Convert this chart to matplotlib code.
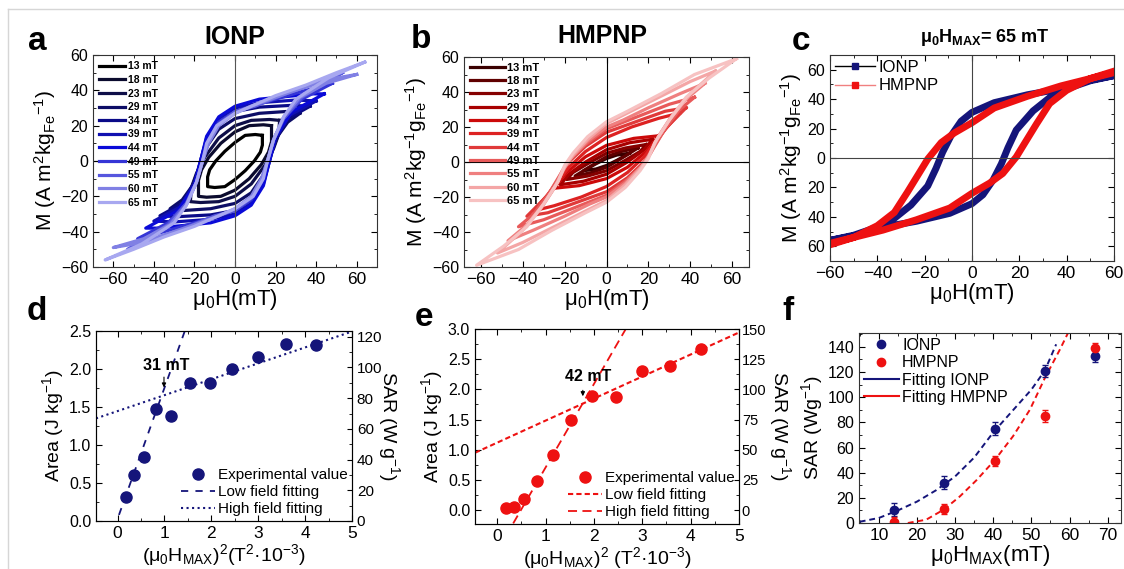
import matplotlib
matplotlib.use('Agg')
import matplotlib.pyplot as plt
from matplotlib.lines import Line2D
from matplotlib.ticker import MultipleLocator, FuncFormatter

plt.rcParams['font.family'] = ['Liberation Sans', 'DejaVu Sans']
plt.rcParams['mathtext.default'] = 'regular'

# ---- data: hysteresis loops, upper branch (H mT, M) from +tip to -tip ----
a_labels = ['13 mT', '18 mT', '23 mT', '29 mT', '34 mT', '39 mT', '44 mT', '49 mT', '55 mT', '60 mT', '65 mT']
a_colors = ['#000000', '#0b0b2e', '#0e0e48', '#0d0d66', '#0a0a88', '#1010b0', '#0a0ad8', '#3535d6', '#5656de', '#8080e4', '#a8a8f0']
a_loops = [
    [(13.5, 14.5), (10, 15), (5, 14.5), (0, 10.5), (-5, 5.5), (-9.5, 0), (-12.5, -5), (-13.5, -9), (-13.5, -14.5)],
    [(18, 20), (14, 20.5), (7, 20), (0, 16.5), (-7, 10), (-13, 2), (-16.5, -5), (-18, -11), (-18, -20)],
    [(22, 23), (17, 23.5), (8, 23), (0, 20), (-8, 13), (-15, 2), (-19, -7), (-21.5, -15), (-22, -23)],
    [(32, 27), (25, 28), (12, 27), (0, 24), (-8, 18), (-14, 8), (-17, -2), (-21, -14), (-26, -22), (-32, -27)],
    [(37, 31), (28, 31.5), (12, 30.5), (0, 28), (-8, 22), (-14, 12), (-17, 0), (-20, -12), (-26, -24), (-37, -31)],
    [(40, 34), (30, 34.5), (12, 33), (0, 30), (-8, 24), (-14, 13), (-17, 0), (-20, -13), (-27, -26), (-40, -34)],
    [(44, 38), (36, 38), (30, 37), (12, 35), (0, 31), (-8, 25), (-14, 14), (-17, 0), (-20, -14), (-28, -28), (-44, -38)],
    [(48, 44), (35, 40), (20, 35), (8, 31), (0, 28), (-8, 22), (-13, 12), (-16, 0), (-19, -12), (-24, -24), (-33, -35), (-48, -44)],
    [(53, 50), (40, 44), (25, 38), (10, 31), (0, 28), (-8, 21), (-13, 11), (-16, 0), (-19, -12), (-24, -24), (-33, -36), (-53, -50)],
    [(60, 49), (50, 47), (35, 42), (20, 36), (8, 31), (0, 27), (-8, 20), (-13, 10), (-16, 0), (-19, -12), (-24, -25), (-32, -36), (-45, -44), (-60, -49)],
    [(64, 56), (50, 50), (35, 43), (20, 37), (8, 31), (0, 27), (-9, 20), (-14, 10), (-16, 0), (-19, -12), (-24, -25), (-30, -35), (-46, -47), (-64, -56)],
]

b_labels = a_labels
b_colors = ['#3a0000', '#600000', '#850000', '#a80000', '#cc0a0a', '#dd2222', '#e03a3a', '#e85a5a', '#ef7f7f', '#f4a6a6', '#f7c2c2']
b_loops = [
    [(11, 5), (5, 4), (0, 2), (-5, -1), (-11, -5)],
    [(15, 8), (7, 6), (0, 3), (-7, -2), (-15, -8)],
    [(19, 10), (9, 8), (0, 5), (-9, -1), (-16, -6), (-19, -10)],
    [(22, 13), (11, 11), (0, 7), (-10, 0), (-18, -7), (-22, -13)],
    [(25, 15), (13, 13.5), (0, 9.5), (-10, 3), (-19, -6), (-25, -15)],
    [(35, 28), (25, 25), (12, 20), (0, 14), (-10, 6), (-18, -3), (-23, -11), (-29, -20), (-35, -28)],
    [(38, 31), (28, 29), (14, 23), (0, 17), (-10, 9), (-18, 0), (-22, -8), (-28, -19), (-38, -31)],
    [(42, 37), (30, 33), (15, 26), (0, 19), (-10, 10), (-18, 1), (-22, -7), (-28, -19), (-35, -30), (-42, -37)],
    [(47, 45), (35, 39), (20, 31), (8, 24), (0, 20), (-9, 12), (-17, 2), (-21, -5), (-25, -15), (-31, -26), (-38, -36), (-47, -45)],
    [(52, 52), (40, 46), (25, 37), (10, 28), (0, 22), (-9, 13), (-16, 4), (-20, -3), (-24, -13), (-30, -24), (-40, -39), (-52, -52)],
    [(62, 59), (42, 50), (26, 39), (10, 29), (0, 23), (-9, 14.5), (-16, 5), (-20, -2), (-23, -11), (-30, -24), (-38, -37), (-49, -48), (-62, -59)],
]

c_ionp = [(60, 56), (50, 53), (37.6, 47), (23.5, 43), (9.4, 37.6), (0, 31), (-4.6, 25), (-8.9, 15), (-12.4, 4),
          (-15.2, -7), (-18.7, -19), (-25.8, -32), (-32.8, -41), (-40, -47), (-50, -52.5), (-60, -56)]
c_hmpnp = [(60, 59), (50, 54), (37.6, 49), (23.5, 42), (9.4, 34), (0, 24), (-7.5, 17), (-13, 10.5), (-18.7, -0.7),
           (-23, -12), (-27.2, -23), (-32.8, -37), (-40, -46), (-50, -54), (-60, -58)]

# ---- data: area vs (mu0 Hmax)^2 ----
d_x = [0.18, 0.34, 0.57, 0.83, 1.15, 1.54, 1.97, 2.45, 3.0, 3.59, 4.23]
d_y = [0.31, 0.61, 0.84, 1.47, 1.38, 1.82, 1.81, 2.0, 2.16, 2.33, 2.32]
d_low_x = [0.03, 1.44]
d_low_y = [0.08, 2.51]
d_high_x = [-0.46, 5.08]
d_high_y = [1.35, 2.51]

e_x = [0.18, 0.35, 0.56, 0.82, 1.15, 1.53, 1.95, 2.45, 2.99, 3.58, 4.22]
e_y = [0.03, 0.045, 0.19, 0.49, 0.92, 1.49, 1.89, 1.88, 2.31, 2.39, 2.67]
e_steep_x = [0.33, 2.68]
e_steep_y = [-0.22, 3.03]
e_shallow_x = [-0.46, 5.02]
e_shallow_y = [0.95, 2.95]

# ---- data: SAR vs mu0 Hmax ----
f_h = [13.9, 27, 40.4, 53.5, 66.8]
f_ionp = [10.6, 32, 75, 120.7, 132.9]
f_ionp_err = [5, 5, 5, 5, 5]
f_hmpnp = [0.8, 11, 49.6, 85, 139]
f_hmpnp_err = [4, 4, 4, 5, 4]
fit_ionp_x = [5, 10, 15, 20, 25, 30, 35, 40, 45, 50, 53.5, 56.5]
fit_ionp_y = [1, 4, 10, 17, 26, 37, 52, 72, 89, 106, 121, 142]
fit_hmpnp_x = [17.6, 22.4, 27, 31.2, 35.6, 40.4, 45.2, 49.6, 53.5, 57.5, 59.6]
fit_hmpnp_y = [0, 2.6, 10.6, 21, 34, 50, 69, 90, 115, 138, 151]

navy = '#15157a'
red = '#ee1111'
W, H = 1124, 569


def loop_xy(branch):
    h = [p[0] for p in branch] + [-p[0] for p in branch]
    m = [p[1] for p in branch] + [-p[1] for p in branch]
    return h, m


def box(x0, y0, x1, y1):
    return [x0 / W, 1 - y1 / H, (x1 - x0) / W, (y1 - y0) / H]


def style(ax, xmaj, xmin, ymaj, ymin, right=True):
    ax.xaxis.set_major_locator(MultipleLocator(xmaj))
    ax.xaxis.set_minor_locator(MultipleLocator(xmin))
    ax.yaxis.set_major_locator(MultipleLocator(ymaj))
    ax.yaxis.set_minor_locator(MultipleLocator(ymin))
    ax.tick_params(which='both', direction='in', top=True, right=right)
    ax.tick_params(which='major', length=4)
    ax.tick_params(which='minor', length=2)
    ax.tick_params(axis='x', labelsize=12.5)
    ax.tick_params(axis='y', labelsize=11.5)
    for s in ax.spines.values():
        s.set_color('#333333')


fig = plt.figure(figsize=(W / 100, H / 100), dpi=100)

# frame lines of the picture
fig.add_artist(Line2D([8 / W, 1], [1 - 9 / H, 1 - 9 / H], transform=fig.transFigure, color='#d6d6d6', lw=1))
fig.add_artist(Line2D([8 / W, 8 / W], [0, 1 - 9 / H], transform=fig.transFigure, color='#d6d6d6', lw=1))

# a
ax = fig.add_axes(box(93, 55, 377, 267))
for lp, col, lab in zip(a_loops, a_colors, a_labels):
    h, m = loop_xy(lp)
    ax.plot(h, m, color=col, lw=2.3, label=lab, solid_joinstyle='round')
ax.axhline(0, color='k', lw=0.8)
ax.axvline(0, color='#555555', lw=0.8)
ax.set_xlim(-70, 70)
ax.set_ylim(-60, 60)
style(ax, 20, 10, 20, 10)
ax.set_xlabel('μ$_0$H(mT)', fontsize=16, labelpad=0)
ax.set_ylabel('M (A m$^2$kg$_{Fe}$$^{-1}$)', fontsize=15, labelpad=2)
ax.legend(loc='upper left', frameon=False, prop={'weight': 'bold', 'size': 7.5},
          handlelength=2.5, handletextpad=0.3, labelspacing=0.35, borderpad=0.6, borderaxespad=0)

# b
ax = fig.add_axes(box(464, 57, 749, 267))
for lp, col, lab in zip(b_loops, b_colors, b_labels):
    h, m = loop_xy(lp)
    ax.plot(h, m, color=col, lw=2.3, label=lab, solid_joinstyle='round')
ax.axhline(0, color='k', lw=0.8)
ax.axvline(0, color='k', lw=0.8)
ax.set_xlim(-68, 68)
ax.set_ylim(-60, 60)
style(ax, 20, 10, 20, 10)
ax.set_xlabel('μ$_0$H(mT)', fontsize=16, labelpad=0)
ax.set_ylabel('M (A m$^2$kg$^{-1}$g$_{Fe}$$^{-1}$)', fontsize=15, labelpad=2)
ax.legend(loc='upper left', frameon=False, prop={'weight': 'bold', 'size': 8},
          handlelength=3.2, handletextpad=0.2, labelspacing=0.3, borderpad=0.5, borderaxespad=0)

# c
ax = fig.add_axes(box(830, 55, 1114, 261))
h, m = loop_xy(c_ionp)
ax.plot(h, m, color=navy, lw=5, solid_joinstyle='round')
h, m = loop_xy(c_hmpnp)
ax.plot(h, m, color=red, lw=5, solid_joinstyle='round')
ax.axhline(0, color='#444444', lw=0.8)
ax.axvline(0, color='#444444', lw=0.8)
ax.set_xlim(-60, 60)
ax.set_ylim(-70, 70)
style(ax, 20, 10, 20, 10)
ax.yaxis.set_major_formatter(FuncFormatter(lambda v, p: '%d' % abs(v)))
ax.set_xlabel('μ$_0$H(mT)', fontsize=16, labelpad=0)
ax.set_ylabel('M (A m$^2$kg$^{-1}$g$_{Fe}$$^{-1}$)', fontsize=15, labelpad=2)
hnd = [Line2D([], [], color='k', lw=1, marker='s', ms=4, mfc=navy, mec=navy),
       Line2D([], [], color='#f08080', lw=1, marker='s', ms=4, mfc=red, mec=red)]
ax.legend(hnd, ['IONP', 'HMPNP'], loc='upper left', frameon=False, fontsize=12,
          handlelength=2.4, handletextpad=0.2, labelspacing=0.2, borderpad=0.3, borderaxespad=0)

# d
ax = fig.add_axes(box(96, 331, 352, 521))
ax.plot(d_x, d_y, 'o', color=navy, ms=8, label='Experimental value')
ax.plot(d_low_x, d_low_y, '--', color=navy, lw=1.3, dashes=(4, 4), label='Low field fitting')
ax.plot(d_high_x, d_high_y, ':', color=navy, lw=1.5, label='High field fitting')
ax.set_xlim(-0.46, 5)
ax.set_ylim(0, 2.5)
style(ax, 1, 0.5, 0.5, 0.25, right=False)
ax.set_xlabel('(μ$_0$H$_{MAX}$)$^2$(T$^2$·10$^{-3}$)', fontsize=14, labelpad=1)
ax.set_ylabel('Area (J kg$^{-1}$)', fontsize=14, labelpad=2)
ax.annotate('', xy=(0.99, 1.72), xytext=(0.99, 1.93),
            arrowprops=dict(arrowstyle='-|>', color='k', lw=0.8, mutation_scale=6))
ax.text(1.03, 2.05, '31 mT', fontsize=11.5, fontweight='bold', ha='center', va='center')
ax.legend(loc='lower right', frameon=False, fontsize=11, handlelength=2.2, handletextpad=0.2,
          labelspacing=0.2, borderpad=0.2, borderaxespad=0.1)
ax2 = ax.twinx()
ax2.set_ylim(0, 2.5 * 49.5)
ax2.yaxis.set_major_locator(MultipleLocator(20))
ax2.yaxis.set_minor_locator(MultipleLocator(10))
ax2.tick_params(which='both', direction='in', labelsize=11)
ax2.tick_params(which='minor', length=2)
ax2.set_ylabel('SAR (W g$^{-1}$)', fontsize=14, rotation=270, labelpad=14)

# e
ax = fig.add_axes(box(475, 329, 739, 524))
ax.plot(e_x, e_y, 'o', color=red, ms=8, label='Experimental value')
ax.plot(e_shallow_x, e_shallow_y, color=red, lw=1.5, dashes=(2.5, 1.5), label='Low field fitting')
ax.plot(e_steep_x, e_steep_y, color=red, lw=1.3, dashes=(5, 3), label='High field fitting')
ax.set_xlim(-0.46, 5)
ax.set_ylim(-0.23, 3.0)
style(ax, 1, 0.5, 0.5, 0.25, right=False)
ax.set_xlabel('(μ$_0$H$_{MAX}$)$^2$ (T$^2$·10$^{-3}$)', fontsize=14, labelpad=1)
ax.set_ylabel('Area (J kg$^{-1}$)', fontsize=14, labelpad=2)
ax.annotate('', xy=(1.77, 1.84), xytext=(1.77, 2.03),
            arrowprops=dict(arrowstyle='-|>', color='k', lw=0.8, mutation_scale=6))
ax.text(1.87, 2.22, '42 mT', fontsize=11.5, fontweight='bold', ha='center', va='center')
ax.legend(loc='lower right', frameon=False, fontsize=11, handlelength=2.2, handletextpad=0.2,
          labelspacing=0.2, borderpad=0.2, borderaxespad=0.1)
ax2 = ax.twinx()
ax2.set_ylim(-0.23 * 50, 150)
ax2.yaxis.set_major_locator(MultipleLocator(25))
ax2.yaxis.set_minor_locator(MultipleLocator(12.5))
ax2.tick_params(which='both', direction='in', labelsize=10.5, pad=2)
ax2.tick_params(which='minor', length=2)
ax2.set_ylabel('SAR (W g$^{-1}$)', fontsize=14, rotation=270, labelpad=19)

# f
ax = fig.add_axes(box(859, 333, 1121, 523))
ax.plot(fit_ionp_x, fit_ionp_y, '--', color=navy, lw=1.4, dashes=(3, 2))
ax.plot(fit_hmpnp_x, fit_hmpnp_y, '--', color=red, lw=1.4, dashes=(3, 2))
ax.errorbar(f_h, f_ionp, yerr=f_ionp_err, fmt='o', color=navy, ms=6, capsize=2, elinewidth=0.8)
ax.errorbar(f_h, f_hmpnp, yerr=f_hmpnp_err, fmt='o', color=red, ms=6, capsize=2, elinewidth=0.8)
ax.set_xlim(4.8, 73.5)
ax.set_ylim(0, 151)
style(ax, 10, 5, 20, 10)
ax.set_xlabel('μ$_0$H$_{MAX}$(mT)', fontsize=16, labelpad=0)
ax.set_ylabel('SAR (Wg$^{-1}$)', fontsize=14, labelpad=2)
hnd = [Line2D([], [], ls='', marker='o', ms=6, color=navy),
       Line2D([], [], ls='', marker='o', ms=6, color=red),
       Line2D([], [], color=navy, lw=1.5),
       Line2D([], [], color=red, lw=1.5)]
ax.legend(hnd, ['IONP', 'HMPNP', 'Fitting IONP', 'Fitting HMPNP'], loc='upper left', frameon=False,
          fontsize=11.5, handlelength=2.2, handletextpad=0.2, labelspacing=0.15, borderpad=0.3, borderaxespad=0)

# titles and panel letters
fig.text(235 / W, 1 - 37 / H, 'IONP', fontsize=18, fontweight='bold', ha='center', va='center')
fig.text(602 / W, 1 - 36 / H, 'HMPNP', fontsize=18, fontweight='bold', ha='center', va='center')
fig.text(985 / W, 1 - 37 / H, 'μ$_0$H$_{MAX}$= 65 mT', fontsize=13, fontweight='bold', ha='center', va='center')
for lt, x, y in [('a', 37, 41), ('b', 421, 40), ('c', 801, 41), ('d', 37, 312), ('e', 424, 318), ('f', 788, 312)]:
    fig.text(x / W, 1 - y / H, lt, fontsize=24, fontweight='bold', ha='center', va='center')

fig.savefig('out.png', dpi=100)
